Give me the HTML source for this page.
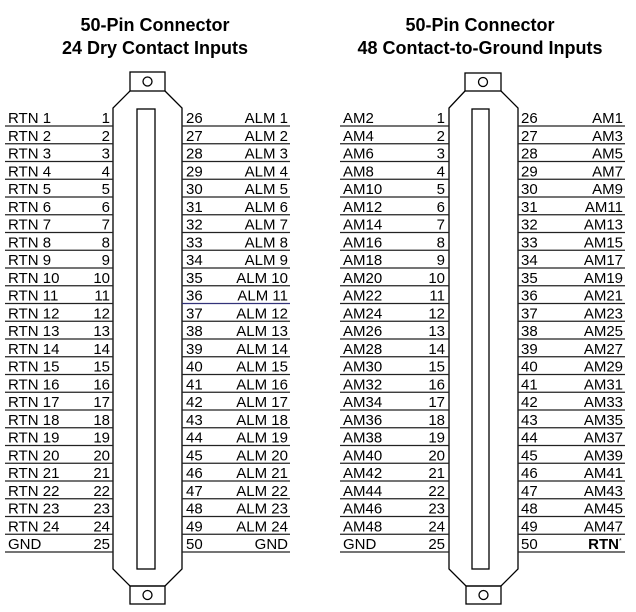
<!DOCTYPE html>
<html><head><meta charset="utf-8"><style>
html,body{margin:0;padding:0;background:#fff;width:636px;height:612px;overflow:hidden}
svg text{font-family:"Liberation Sans",Arial,sans-serif;fill:#000}
.t{font-size:18px;font-weight:bold;text-anchor:middle}
.l{font-size:15px}
.e{text-anchor:end}
</style></head><body>
<svg width="636" height="612" viewBox="0 0 636 612" xmlns="http://www.w3.org/2000/svg">
<text class="t" x="155" y="31">50-Pin Connector</text>
<text class="t" x="155" y="54">24 Dry Contact Inputs</text>
<text class="t" x="480" y="31">50-Pin Connector</text>
<text class="t" x="480" y="54">48 Contact-to-Ground Inputs</text>

<g fill="none" stroke="#000" stroke-width="1.3">
<rect x="130" y="72" width="35" height="19"/>
<circle cx="147.5" cy="81.5" r="4.5"/>
<path d="M130 91 L113 108 L113 569 L130 586 L165 586 L182 569 L182 108 L165 91"/>
<rect x="137" y="109" width="18" height="460"/>
<rect x="130" y="586" width="35" height="18"/>
<circle cx="147.5" cy="595" r="4.5"/>
<rect x="465" y="73" width="36" height="18"/>
<circle cx="483" cy="82" r="4.5"/>
<path d="M465 91 L449 108 L449 569 L466 586 L501 586 L518 569 L518 108 L501 91"/>
<rect x="472" y="109" width="17" height="460"/>
<rect x="466" y="586" width="35" height="18"/>
<circle cx="483.5" cy="595" r="4.5"/>
</g>

<g stroke="#222" stroke-width="1.3">
<line x1="5" x2="113" y1="126" y2="126"/><line x1="182" x2="290" y1="126" y2="126"/><line x1="340" x2="449" y1="126" y2="126"/><line x1="518" x2="625" y1="126" y2="126"/>
<line x1="5" x2="113" y1="143.75" y2="143.75"/><line x1="182" x2="290" y1="143.75" y2="143.75"/><line x1="340" x2="449" y1="143.75" y2="143.75"/><line x1="518" x2="625" y1="143.75" y2="143.75"/>
<line x1="5" x2="113" y1="161.5" y2="161.5"/><line x1="182" x2="290" y1="161.5" y2="161.5"/><line x1="340" x2="449" y1="161.5" y2="161.5"/><line x1="518" x2="625" y1="161.5" y2="161.5"/>
<line x1="5" x2="113" y1="179.25" y2="179.25"/><line x1="182" x2="290" y1="179.25" y2="179.25"/><line x1="340" x2="449" y1="179.25" y2="179.25"/><line x1="518" x2="625" y1="179.25" y2="179.25"/>
<line x1="5" x2="113" y1="197" y2="197"/><line x1="182" x2="290" y1="197" y2="197"/><line x1="340" x2="449" y1="197" y2="197"/><line x1="518" x2="625" y1="197" y2="197"/>
<line x1="5" x2="113" y1="214.75" y2="214.75"/><line x1="182" x2="290" y1="214.75" y2="214.75"/><line x1="340" x2="449" y1="214.75" y2="214.75"/><line x1="518" x2="625" y1="214.75" y2="214.75"/>
<line x1="5" x2="113" y1="232.5" y2="232.5"/><line x1="182" x2="290" y1="232.5" y2="232.5"/><line x1="340" x2="449" y1="232.5" y2="232.5"/><line x1="518" x2="625" y1="232.5" y2="232.5"/>
<line x1="5" x2="113" y1="250.25" y2="250.25"/><line x1="182" x2="290" y1="250.25" y2="250.25"/><line x1="340" x2="449" y1="250.25" y2="250.25"/><line x1="518" x2="625" y1="250.25" y2="250.25"/>
<line x1="5" x2="113" y1="268" y2="268"/><line x1="182" x2="290" y1="268" y2="268"/><line x1="340" x2="449" y1="268" y2="268"/><line x1="518" x2="625" y1="268" y2="268"/>
<line x1="5" x2="113" y1="285.75" y2="285.75"/><line x1="182" x2="290" y1="285.75" y2="285.75"/><line x1="340" x2="449" y1="285.75" y2="285.75"/><line x1="518" x2="625" y1="285.75" y2="285.75"/>
<line x1="5" x2="113" y1="303.5" y2="303.5"/><line x1="182" x2="290" y1="303.5" y2="303.5" stroke="#33337a"/><line x1="340" x2="449" y1="303.5" y2="303.5"/><line x1="518" x2="625" y1="303.5" y2="303.5"/>
<line x1="5" x2="113" y1="321.25" y2="321.25"/><line x1="182" x2="290" y1="321.25" y2="321.25"/><line x1="340" x2="449" y1="321.25" y2="321.25"/><line x1="518" x2="625" y1="321.25" y2="321.25"/>
<line x1="5" x2="113" y1="339" y2="339"/><line x1="182" x2="290" y1="339" y2="339"/><line x1="340" x2="449" y1="339" y2="339"/><line x1="518" x2="625" y1="339" y2="339"/>
<line x1="5" x2="113" y1="356.75" y2="356.75"/><line x1="182" x2="290" y1="356.75" y2="356.75"/><line x1="340" x2="449" y1="356.75" y2="356.75"/><line x1="518" x2="625" y1="356.75" y2="356.75"/>
<line x1="5" x2="113" y1="374.5" y2="374.5"/><line x1="182" x2="290" y1="374.5" y2="374.5"/><line x1="340" x2="449" y1="374.5" y2="374.5"/><line x1="518" x2="625" y1="374.5" y2="374.5"/>
<line x1="5" x2="113" y1="392.25" y2="392.25"/><line x1="182" x2="290" y1="392.25" y2="392.25"/><line x1="340" x2="449" y1="392.25" y2="392.25"/><line x1="518" x2="625" y1="392.25" y2="392.25"/>
<line x1="5" x2="113" y1="410" y2="410"/><line x1="182" x2="290" y1="410" y2="410"/><line x1="340" x2="449" y1="410" y2="410"/><line x1="518" x2="625" y1="410" y2="410"/>
<line x1="5" x2="113" y1="427.75" y2="427.75"/><line x1="182" x2="290" y1="427.75" y2="427.75"/><line x1="340" x2="449" y1="427.75" y2="427.75"/><line x1="518" x2="625" y1="427.75" y2="427.75"/>
<line x1="5" x2="113" y1="445.5" y2="445.5"/><line x1="182" x2="290" y1="445.5" y2="445.5"/><line x1="340" x2="449" y1="445.5" y2="445.5"/><line x1="518" x2="625" y1="445.5" y2="445.5"/>
<line x1="5" x2="113" y1="463.25" y2="463.25"/><line x1="182" x2="290" y1="463.25" y2="463.25"/><line x1="340" x2="449" y1="463.25" y2="463.25"/><line x1="518" x2="625" y1="463.25" y2="463.25"/>
<line x1="5" x2="113" y1="481" y2="481"/><line x1="182" x2="290" y1="481" y2="481"/><line x1="340" x2="449" y1="481" y2="481"/><line x1="518" x2="625" y1="481" y2="481"/>
<line x1="5" x2="113" y1="498.75" y2="498.75"/><line x1="182" x2="290" y1="498.75" y2="498.75"/><line x1="340" x2="449" y1="498.75" y2="498.75"/><line x1="518" x2="625" y1="498.75" y2="498.75"/>
<line x1="5" x2="113" y1="516.5" y2="516.5"/><line x1="182" x2="290" y1="516.5" y2="516.5"/><line x1="340" x2="449" y1="516.5" y2="516.5"/><line x1="518" x2="625" y1="516.5" y2="516.5"/>
<line x1="5" x2="113" y1="534.25" y2="534.25"/><line x1="182" x2="290" y1="534.25" y2="534.25"/><line x1="340" x2="449" y1="534.25" y2="534.25"/><line x1="518" x2="625" y1="534.25" y2="534.25"/>
<line x1="5" x2="113" y1="552" y2="552"/><line x1="182" x2="290" y1="552" y2="552"/><line x1="340" x2="449" y1="552" y2="552"/><line x1="518" x2="625" y1="552" y2="552"/>
</g>

<g class="l">
<g transform="translate(0,123)"><text x="8">RTN 1</text><text class="e" x="110">1</text><text x="186">26</text><text class="e" x="288">ALM 1</text><text x="343">AM2</text><text class="e" x="445">1</text><text x="521">26</text><text class="e" x="623">AM1</text></g>
<g transform="translate(0,140.75)"><text x="8">RTN 2</text><text class="e" x="110">2</text><text x="186">27</text><text class="e" x="288">ALM 2</text><text x="343">AM4</text><text class="e" x="445">2</text><text x="521">27</text><text class="e" x="623">AM3</text></g>
<g transform="translate(0,158.5)"><text x="8">RTN 3</text><text class="e" x="110">3</text><text x="186">28</text><text class="e" x="288">ALM 3</text><text x="343">AM6</text><text class="e" x="445">3</text><text x="521">28</text><text class="e" x="623">AM5</text></g>
<g transform="translate(0,176.25)"><text x="8">RTN 4</text><text class="e" x="110">4</text><text x="186">29</text><text class="e" x="288">ALM 4</text><text x="343">AM8</text><text class="e" x="445">4</text><text x="521">29</text><text class="e" x="623">AM7</text></g>
<g transform="translate(0,194)"><text x="8">RTN 5</text><text class="e" x="110">5</text><text x="186">30</text><text class="e" x="288">ALM 5</text><text x="343">AM10</text><text class="e" x="445">5</text><text x="521">30</text><text class="e" x="623">AM9</text></g>
<g transform="translate(0,211.75)"><text x="8">RTN 6</text><text class="e" x="110">6</text><text x="186">31</text><text class="e" x="288">ALM 6</text><text x="343">AM12</text><text class="e" x="445">6</text><text x="521">31</text><text class="e" x="623">AM11</text></g>
<g transform="translate(0,229.5)"><text x="8">RTN 7</text><text class="e" x="110">7</text><text x="186">32</text><text class="e" x="288">ALM 7</text><text x="343">AM14</text><text class="e" x="445">7</text><text x="521">32</text><text class="e" x="623">AM13</text></g>
<g transform="translate(0,247.25)"><text x="8">RTN 8</text><text class="e" x="110">8</text><text x="186">33</text><text class="e" x="288">ALM 8</text><text x="343">AM16</text><text class="e" x="445">8</text><text x="521">33</text><text class="e" x="623">AM15</text></g>
<g transform="translate(0,265)"><text x="8">RTN 9</text><text class="e" x="110">9</text><text x="186">34</text><text class="e" x="288">ALM 9</text><text x="343">AM18</text><text class="e" x="445">9</text><text x="521">34</text><text class="e" x="623">AM17</text></g>
<g transform="translate(0,282.75)"><text x="8">RTN 10</text><text class="e" x="110">10</text><text x="186">35</text><text class="e" x="288">ALM 10</text><text x="343">AM20</text><text class="e" x="445">10</text><text x="521">35</text><text class="e" x="623">AM19</text></g>
<g transform="translate(0,300.5)"><text x="8">RTN 11</text><text class="e" x="110">11</text><text x="186">36</text><text class="e" x="288">ALM 11</text><text x="343">AM22</text><text class="e" x="445">11</text><text x="521">36</text><text class="e" x="623">AM21</text></g>
<g transform="translate(0,318.25)"><text x="8">RTN 12</text><text class="e" x="110">12</text><text x="186">37</text><text class="e" x="288">ALM 12</text><text x="343">AM24</text><text class="e" x="445">12</text><text x="521">37</text><text class="e" x="623">AM23</text></g>
<g transform="translate(0,336)"><text x="8">RTN 13</text><text class="e" x="110">13</text><text x="186">38</text><text class="e" x="288">ALM 13</text><text x="343">AM26</text><text class="e" x="445">13</text><text x="521">38</text><text class="e" x="623">AM25</text></g>
<g transform="translate(0,353.75)"><text x="8">RTN 14</text><text class="e" x="110">14</text><text x="186">39</text><text class="e" x="288">ALM 14</text><text x="343">AM28</text><text class="e" x="445">14</text><text x="521">39</text><text class="e" x="623">AM27</text></g>
<g transform="translate(0,371.5)"><text x="8">RTN 15</text><text class="e" x="110">15</text><text x="186">40</text><text class="e" x="288">ALM 15</text><text x="343">AM30</text><text class="e" x="445">15</text><text x="521">40</text><text class="e" x="623">AM29</text></g>
<g transform="translate(0,389.25)"><text x="8">RTN 16</text><text class="e" x="110">16</text><text x="186">41</text><text class="e" x="288">ALM 16</text><text x="343">AM32</text><text class="e" x="445">16</text><text x="521">41</text><text class="e" x="623">AM31</text></g>
<g transform="translate(0,407)"><text x="8">RTN 17</text><text class="e" x="110">17</text><text x="186">42</text><text class="e" x="288">ALM 17</text><text x="343">AM34</text><text class="e" x="445">17</text><text x="521">42</text><text class="e" x="623">AM33</text></g>
<g transform="translate(0,424.75)"><text x="8">RTN 18</text><text class="e" x="110">18</text><text x="186">43</text><text class="e" x="288">ALM 18</text><text x="343">AM36</text><text class="e" x="445">18</text><text x="521">43</text><text class="e" x="623">AM35</text></g>
<g transform="translate(0,442.5)"><text x="8">RTN 19</text><text class="e" x="110">19</text><text x="186">44</text><text class="e" x="288">ALM 19</text><text x="343">AM38</text><text class="e" x="445">19</text><text x="521">44</text><text class="e" x="623">AM37</text></g>
<g transform="translate(0,460.25)"><text x="8">RTN 20</text><text class="e" x="110">20</text><text x="186">45</text><text class="e" x="288">ALM 20</text><text x="343">AM40</text><text class="e" x="445">20</text><text x="521">45</text><text class="e" x="623">AM39</text></g>
<g transform="translate(0,478)"><text x="8">RTN 21</text><text class="e" x="110">21</text><text x="186">46</text><text class="e" x="288">ALM 21</text><text x="343">AM42</text><text class="e" x="445">21</text><text x="521">46</text><text class="e" x="623">AM41</text></g>
<g transform="translate(0,495.75)"><text x="8">RTN 22</text><text class="e" x="110">22</text><text x="186">47</text><text class="e" x="288">ALM 22</text><text x="343">AM44</text><text class="e" x="445">22</text><text x="521">47</text><text class="e" x="623">AM43</text></g>
<g transform="translate(0,513.5)"><text x="8">RTN 23</text><text class="e" x="110">23</text><text x="186">48</text><text class="e" x="288">ALM 23</text><text x="343">AM46</text><text class="e" x="445">23</text><text x="521">48</text><text class="e" x="623">AM45</text></g>
<g transform="translate(0,531.25)"><text x="8">RTN 24</text><text class="e" x="110">24</text><text x="186">49</text><text class="e" x="288">ALM 24</text><text x="343">AM48</text><text class="e" x="445">24</text><text x="521">49</text><text class="e" x="623">AM47</text></g>
<g transform="translate(0,549)"><text x="8">GND</text><text class="e" x="110">25</text><text x="186">50</text><text class="e" x="288">GND</text><text x="343">GND</text><text class="e" x="445">25</text><text x="521">50</text><text class="e" x="619" font-weight="bold">RTN</text><text x="619" y="-6" font-size="7">*</text></g>
</g>
</svg>
</body></html>
